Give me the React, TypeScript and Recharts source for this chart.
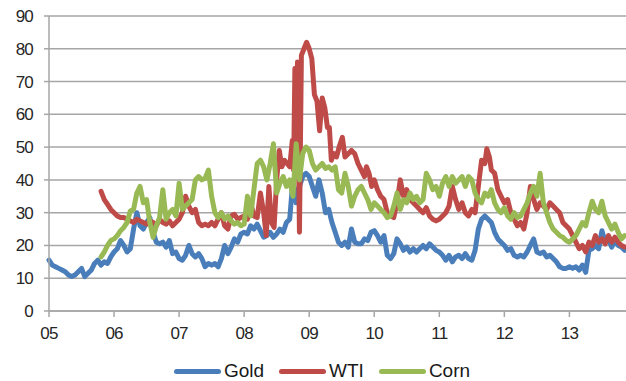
import React from "react";
import { LineChart, Line, XAxis, YAxis, CartesianGrid, Legend } from "recharts";

// ---- data (fractional years) ----
const years = [2005, 2006, 2007, 2008, 2009, 2010, 2011, 2012, 2013];
const yTicks = [0, 10, 20, 30, 40, 50, 60, 70, 80, 90];

// sampled every 0.05 year from 2005.00 to 2013.85
const sampleDates: number[] = Array.from({ length: 178 }, (_, i) => Math.round((2005 + i * 0.05) * 100) / 100);

const goldValues = [
  // 2005
  15.5, 14, 13.5, 13, 12.5, 12, 11, 10.5, 11, 12, 13, 10.5, 11.5, 12.5, 14.5, 15.5, 14, 15, 14.5, 16.5,
  // 2006
  18, 19, 21.5, 20, 18, 19, 25, 30, 26, 25, 27, 28.5, 24, 21, 20.5, 21, 19.5, 21.5, 17.5, 18,
  // 2007
  16, 15.5, 17, 20, 17.5, 16.5, 17.5, 16, 13.5, 14.5, 14, 14.5, 13.5, 16, 20, 17.5, 19.5, 22, 21, 23.5,
  // 2008
  24, 23.5, 26, 25, 26.5, 24.5, 22.5, 23, 24, 22.5, 23.5, 25, 24, 27, 28, 40, 33, 38, 41, 42,
  // 2009
  41, 38, 35, 40, 36, 30, 31, 27, 24, 21, 20, 21, 19.5, 25, 21, 20.5, 20.5, 22, 21.5, 24,
  // 2010
  24.5, 23, 21, 23, 17, 16, 17.5, 22, 20.5, 18.5, 19.5, 18, 19, 18, 19, 20, 19, 20.5, 19.5, 18.5,
  // 2011
  18, 17, 15.5, 17, 15, 16.5, 17, 16, 17.5, 16, 15.5, 18.5, 25, 28, 29, 28, 27, 24, 22, 21,
  // 2012
  20, 18.5, 19, 17, 16.5, 17, 16.5, 18, 20, 22, 18, 17.5, 18, 16.5, 17, 16, 15, 13.5, 13, 13,
  // 2013
  13.5, 13, 13.5, 12.5, 14, 11.8, 18.5, 19, 20, 19, 24.5, 21, 22, 19.5, 21.5, 20, 19.5, 18.5,
];

const cornValues: (number | null)[] = [
  // 2005 (starts at 2005.80)
  null, null, null, null, null, null, null, null, null, null, null, null, null, null, null, null, 16.5, 18, 20, 21.5,
  // 2006
  22, 23, 24.5, 25.5, 27, 30.5, 31, 36, 38, 33, 34, 27, 22.5, 26, 28.5, 37, 28, 30, 31, 29,
  // 2007
  39, 31, 32, 33, 34, 40, 41, 40, 40.5, 43, 35, 30, 28.5, 30, 28, 29, 27.5, 26.5, 27, 26,
  // 2008
  26.5, 35, 29, 37, 45, 46, 44, 40, 45, 51, 36, 39, 41, 38, 40, 35, 51, 40, 48, 50,
  // 2009
  49, 45, 43, 44, 45, 43.5, 44, 43, 44, 37, 36, 42, 38, 32, 35, 37, 38, 36, 34, 31,
  // 2010
  33, 32, 31, 30, 28.5, 29, 32, 36, 31, 34, 33, 36, 34, 35, 33, 34, 42, 40, 37, 38,
  // 2011
  35, 39, 41, 38, 41, 39, 40, 41, 38, 41, 40, 36, 34, 33, 36, 35, 37, 33, 31, 30,
  // 2012
  31.5, 29, 28, 30, 28.5, 29, 31, 33, 36, 38, 35, 42, 33, 30, 27, 25, 24, 23, 22.5, 21.5,
  // 2013
  21, 22, 23, 25, 27, 26, 30, 33.5, 31, 30, 33.5, 29, 27, 25, 26.5, 24, 22, 23,
];

// WTI has its own (irregular) dates to capture the 2008-09 spikes
const wtiDates = [
  2005.8, 2005.85, 2005.9, 2005.95,
  2006.0, 2006.05, 2006.1, 2006.15, 2006.2, 2006.25, 2006.3, 2006.35, 2006.4, 2006.45, 2006.5, 2006.55, 2006.6, 2006.65, 2006.7, 2006.75, 2006.8, 2006.85, 2006.9, 2006.95,
  2007.0, 2007.05, 2007.1, 2007.15, 2007.2, 2007.25, 2007.3, 2007.35, 2007.4, 2007.45, 2007.5, 2007.55, 2007.6, 2007.65, 2007.7, 2007.75, 2007.8, 2007.85, 2007.9, 2007.95,
  2008.0, 2008.05, 2008.1, 2008.15, 2008.2, 2008.25, 2008.3, 2008.34, 2008.38, 2008.42, 2008.46, 2008.5, 2008.54, 2008.58, 2008.62, 2008.66, 2008.7, 2008.74, 2008.76, 2008.78, 2008.8, 2008.82, 2008.85, 2008.88, 2008.92, 2008.96,
  2009.0, 2009.04, 2009.08, 2009.12, 2009.16, 2009.2, 2009.24, 2009.28, 2009.31, 2009.34, 2009.38, 2009.42, 2009.46, 2009.51, 2009.55, 2009.6, 2009.65, 2009.7, 2009.75, 2009.8, 2009.85, 2009.88, 2009.92, 2009.96,
  2010.0, 2010.05, 2010.1, 2010.15, 2010.2, 2010.25, 2010.3, 2010.35, 2010.4, 2010.45, 2010.5, 2010.55, 2010.6, 2010.65, 2010.7, 2010.75, 2010.8, 2010.85, 2010.9, 2010.95,
  2011.0, 2011.05, 2011.1, 2011.15, 2011.2, 2011.25, 2011.3, 2011.35, 2011.4, 2011.45, 2011.5, 2011.55, 2011.6, 2011.65, 2011.7, 2011.73, 2011.77, 2011.8, 2011.85, 2011.9, 2011.95,
  2012.0, 2012.05, 2012.1, 2012.15, 2012.2, 2012.25, 2012.3, 2012.35, 2012.4, 2012.45, 2012.5, 2012.55, 2012.6, 2012.65, 2012.7, 2012.75, 2012.8, 2012.85, 2012.9, 2012.95,
  2013.0, 2013.05, 2013.1, 2013.15, 2013.2, 2013.25, 2013.3, 2013.35, 2013.4, 2013.45, 2013.5, 2013.55, 2013.6, 2013.65, 2013.7, 2013.75, 2013.8, 2013.85,
];
const wtiValues = [
  36.5, 34, 32.5, 31,
  30, 29, 28.5, 28.5, 28, 27.5, 27, 28, 27.5, 27, 26.5, 27.5, 27, 26, 28, 27, 26.5, 27.5, 26, 27,
  28, 30, 35, 32, 30, 31, 27, 26, 26.5, 26, 27, 26, 28, 30, 26, 25, 29, 29.5, 28, 28.5,
  29, 28, 33, 29, 28.5, 36, 30, 23, 38, 27, 25.5, 40, 49, 44, 46, 45, 44, 52, 43, 74, 62, 76, 24, 78, 80, 82,
  80, 77, 66, 64, 55, 65, 62, 56, 56, 46, 48, 47, 50, 53, 47, 48, 49, 48, 45, 43, 41, 44, 42, 38,
  40, 37, 35, 34, 30, 29, 28.5, 33, 40, 35, 37, 34, 33, 32, 31, 30, 31.5, 29, 28, 27.5,
  28, 29, 30, 32, 38, 34, 31, 33, 30, 29, 31, 30, 38, 46, 45, 49.5, 47, 43, 42, 37, 35,
  33, 34, 30, 28, 26, 27, 25, 30, 38, 34, 31, 33, 32, 31, 33, 32, 31, 30, 27, 26,
  25, 23, 21, 19, 20, 18, 21, 20, 23, 21, 22, 20.5, 23, 21, 22.5, 21, 20, 19.5,
];

const goldData = sampleDates.map((t, i) => ({ t, v: goldValues[i] ?? null }));
const cornData = sampleDates.map((t, i) => ({ t, v: cornValues[i] ?? null }));
const wtiData = wtiDates.map((t, i) => ({ t, v: wtiValues[i] ?? null }));

const series = [
  { name: "Gold", color: "#4A7EBB", data: goldData },
  { name: "WTI", color: "#BE4B48", data: wtiData },
  { name: "Corn", color: "#98B954", data: cornData },
];

const FONT = "'Liberation Sans', Arial, sans-serif";
const GRID = "#A6A6A6";

const renderLegend = () => (
  <div
    style={{
      display: "flex",
      justifyContent: "center",
      alignItems: "center",
      height: 20,
      paddingLeft: 18,
      fontFamily: FONT,
      fontSize: 19,
      color: "#1a1a1a",
      lineHeight: "20px",
    }}
  >
    {series.map((s, i) => (
      <div key={s.name} style={{ display: "flex", alignItems: "center", marginRight: i < series.length - 1 ? 15 : 0 }}>
        <div style={{ width: 47, height: 5, background: s.color, borderRadius: 3, marginRight: 3 }} />
        <span>{s.name}</span>
      </div>
    ))}
  </div>
);

export default function App() {
  return (
    <div style={{ position: "absolute", left: 0, top: 0, background: "#fff" }}>
      <LineChart width={626} height={381} margin={{ top: 16, right: 0, left: 0, bottom: 0 }}>
        <CartesianGrid horizontal vertical={false} stroke={GRID} strokeWidth={1.5} />
        <XAxis
          dataKey="t"
          type="number"
          domain={[2005, 2013.87]}
          ticks={years}
          allowDuplicatedCategory={false}
          tickFormatter={(v: number) => String(v % 100).padStart(2, "0")}
          height={50}
          tickSize={6}
          tickMargin={10}
          axisLine={{ stroke: GRID, strokeWidth: 1.5 }}
          tickLine={{ stroke: GRID, strokeWidth: 1.5 }}
          tick={{ fill: "#262626", fontSize: 17, fontFamily: FONT, letterSpacing: -0.8 }}
        />
        <YAxis
          type="number"
          domain={[0, 90]}
          ticks={yTicks}
          width={49}
          tickSize={5}
          tickMargin={11}
          axisLine={{ stroke: GRID, strokeWidth: 1.5 }}
          tickLine={{ stroke: GRID, strokeWidth: 1.5 }}
          tick={{ fill: "#262626", fontSize: 17, fontFamily: FONT, letterSpacing: -0.8 }}
        />
        <Legend verticalAlign="bottom" content={renderLegend} />
        {series.map((s) => (
          <Line
            key={s.name}
            data={s.data}
            dataKey="v"
            name={s.name}
            type="linear"
            stroke={s.color}
            strokeWidth={5}
            strokeLinejoin="round"
            strokeLinecap="round"
            dot={false}
            activeDot={false}
            connectNulls={false}
            isAnimationActive={false}
          />
        ))}
      </LineChart>
    </div>
  );
}
